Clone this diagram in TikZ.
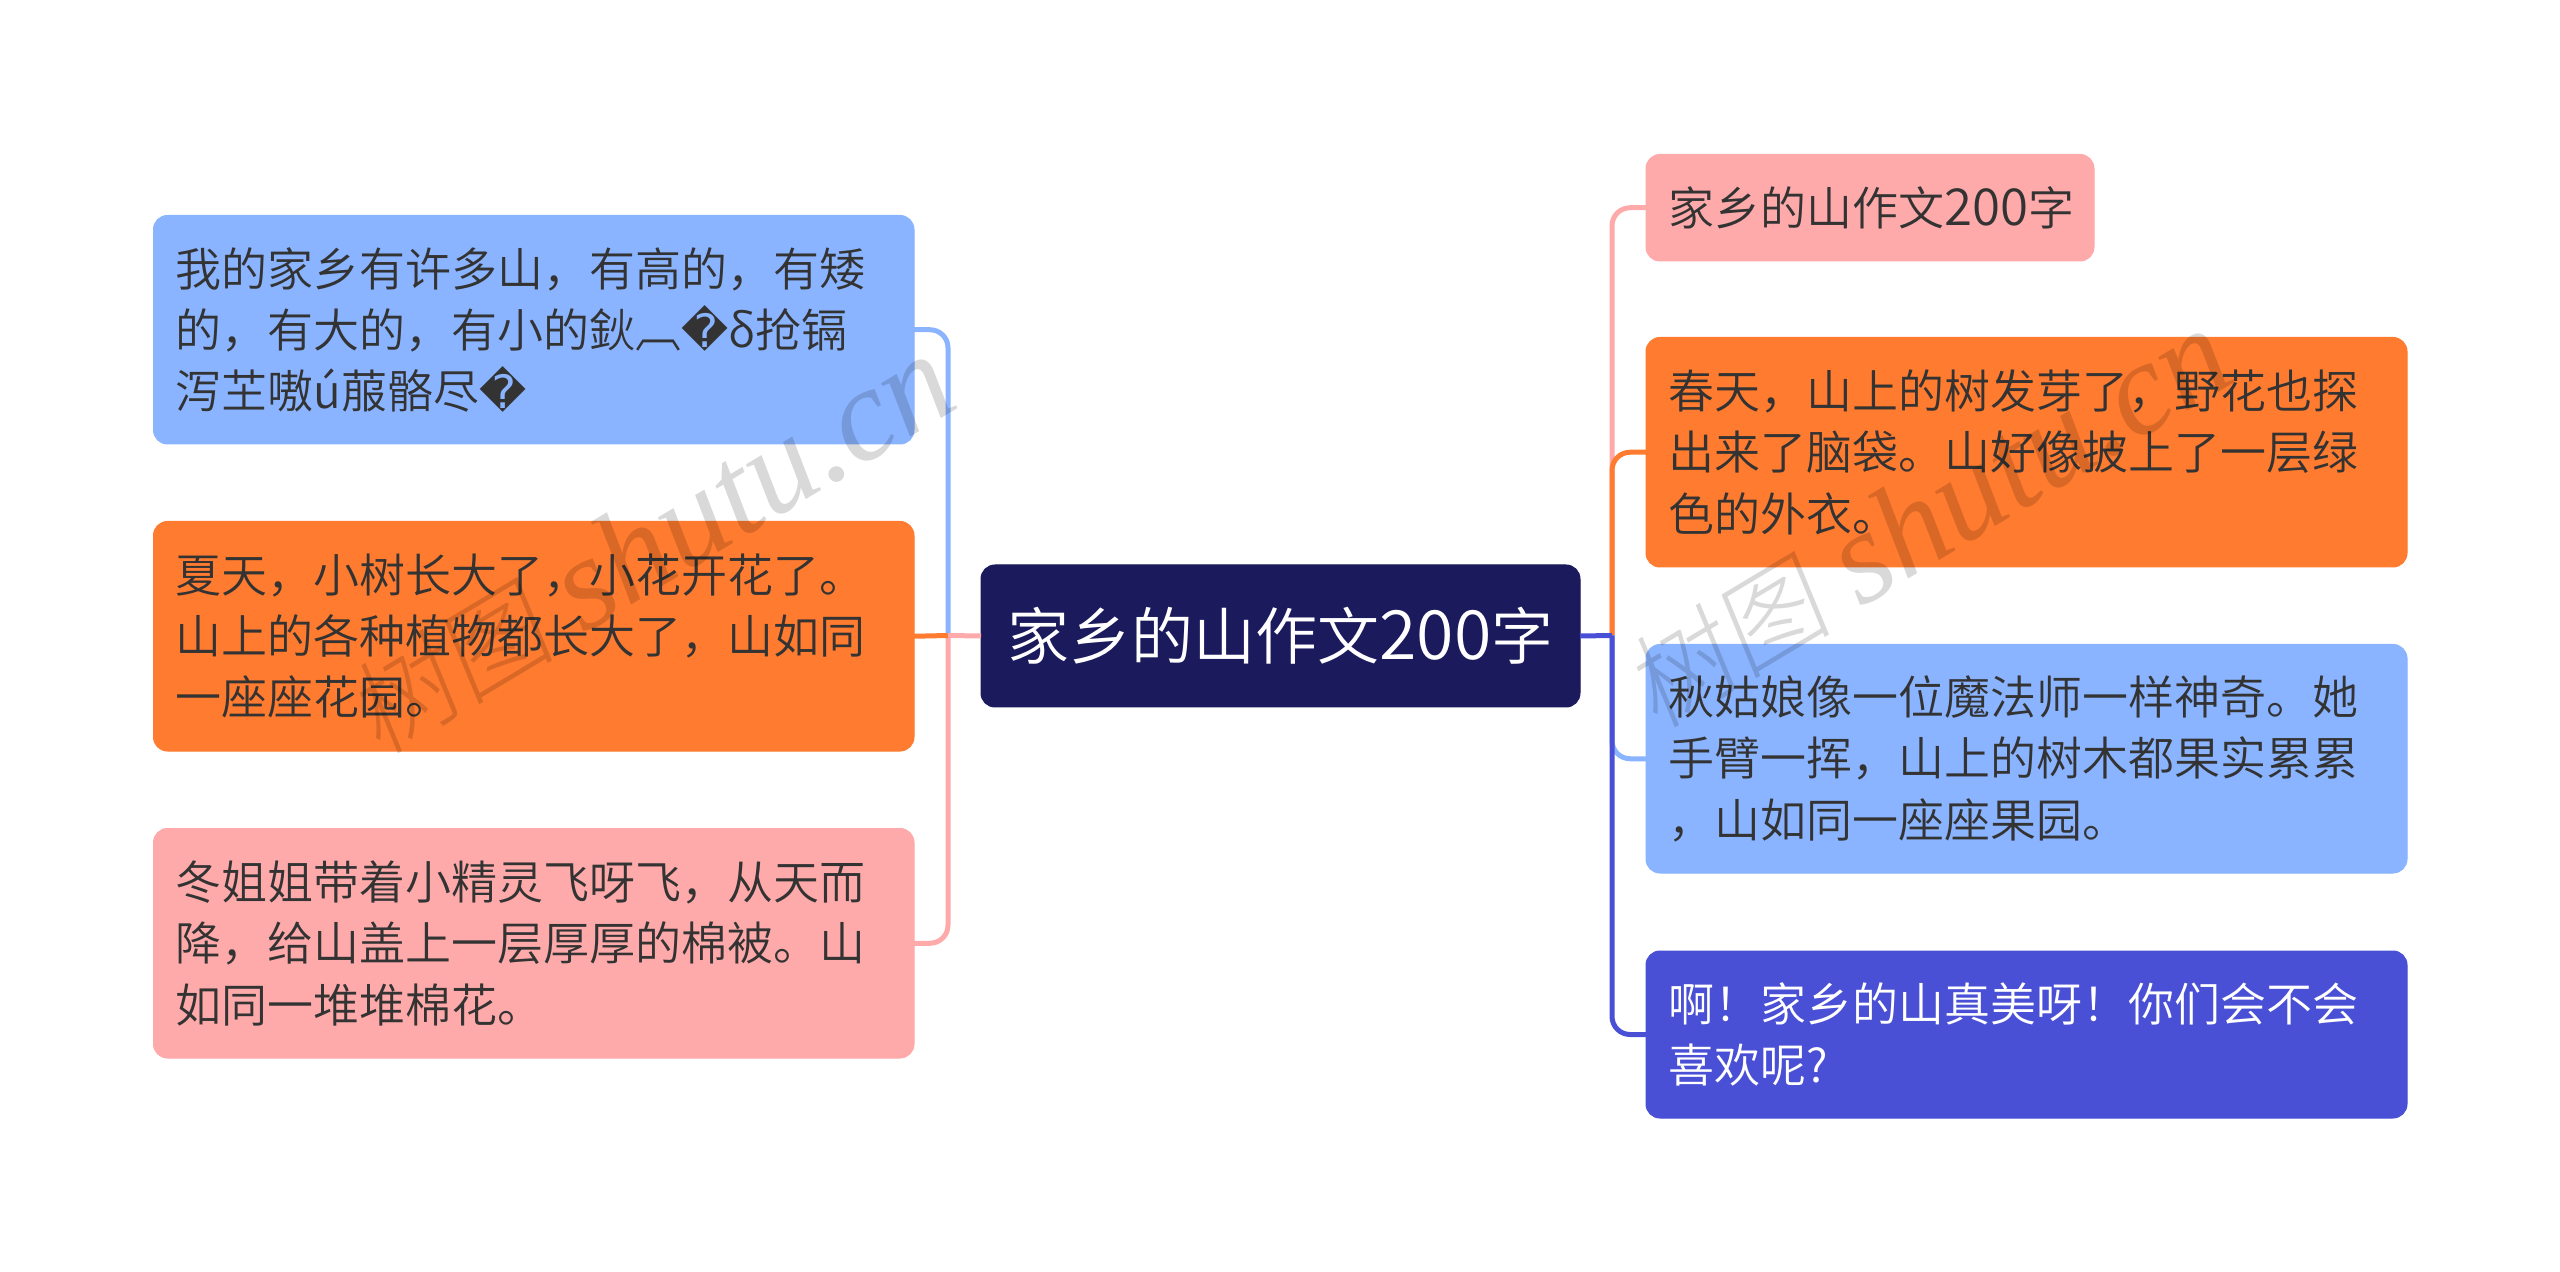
\documentclass[tikz,border=0pt]{standalone}
\usepackage{fontspec}
\setmainfont{Noto Sans CJK SC}[UprightFont=* DemiLight]
\newfontfamily\dejavu{DejaVu Sans}
\newfontfamily\wmserif{Liberation Serif}
\newfontfamily\wmcjk{Noto Sans CJK SC}[UprightFont=* Light,UprightFeatures={FakeSlant=0.15}]
\definecolor{navy}{HTML}{1A1A5C}
\definecolor{skyb}{HTML}{8AB4FF}
\definecolor{orng}{HTML}{FF7B2F}
\definecolor{pnk}{HTML}{FFAAAA}
\definecolor{indg}{HTML}{4A50D6}
\definecolor{ink}{HTML}{333333}
\tikzset{
  every node/.style={inner sep=0pt,outer sep=0pt},
  boxb/.style={rounded corners=7pt,line width=.5pt,align=left,font=\fontsize{23}{30.6}\selectfont,text=ink},
  linkl/.style={line width=2.5pt,rounded corners=9pt},
  wmark/.style={text=black,opacity=.15,rotate=31,font=\fontsize{66}{66}\selectfont},
}
\newcommand{\fffd}{{\dejavu\symbol{"FFFD}}}
\newcommand{\wmtext}{{\fontsize{52}{52}\selectfont\wmcjk 树图} {\wmserif\itshape shutu.cn}}
\newcommand{\boxat}[7]{% name, x1,y1,x2,y2, fill, text
  \node[boxb,fill=#6,draw=#6,minimum width={(#4-#2)*0.5pt},minimum height={(#5-#3)*0.5pt},text width={(#4-#2-44)*0.5pt},anchor=north west] (#1) at (#2,#3) {#7};}
\begin{document}
\begin{tikzpicture}[x=0.5pt,y=-0.5pt]
\useasboundingbox (0,0) rectangle (2560,1272);
\fill[white] (0,0) rectangle (2560,1272);
% coordinates for trunks
\coordinate (lt) at (948,635.5);
\coordinate (rt) at (1612,635.5);
% nodes
\node[boxb,fill=navy,draw=navy,text=white,font=\fontsize{31}{36}\selectfont,minimum width=299.5pt,minimum height=71pt,align=center,anchor=north west] (c) at (981,565) {家乡的山作文{\fontsize{34}{36}\selectfont 200}字};
\boxat{l1}{153.5}{215.5}{914}{444}{skyb}{我的家乡有许多山，有高的，有矮\\的，有大的，有小的鈥︹\fffd δ抢镉\\泻芏嗷ú菔骼尽\fffd}
\boxat{l2}{153.5}{521.5}{914}{751}{orng}{夏天，小树长大了，小花开花了。\\山上的各种植物都长大了，山如同\\一座座花园。}
\boxat{l3}{153.5}{828.5}{914}{1058}{pnk}{冬姐姐带着小精灵飞呀飞，从天而\\降，给山盖上一层厚厚的棉被。山\\如同一堆堆棉花。}
\boxat{r1}{1646}{154.5}{2094}{261}{pnk}{家乡的山作文{\fontsize{25.5}{30}\selectfont 200}字}
\boxat{r2}{1646}{337.5}{2407}{567}{orng}{春天，山上的树发芽了，野花也探\\出来了脑袋。山好像披上了一层绿\\色的外衣。}
\boxat{r3}{1646}{644.5}{2407}{873}{skyb}{秋姑娘像一位魔法师一样神奇。她\\手臂一挥，山上的树木都果实累累\\，山如同一座座果园。}
\boxat{r4}{1646}{951}{2407}{1118}{indg}{\color{white}啊！家乡的山真美呀！你们会不会\\喜欢呢?}
% connectors
\draw[linkl,draw=skyb] (lt) |- (l1.east);
\draw[linkl,draw=pnk] (lt) |- (l3.east);
\draw[line width=2.5pt,draw=orng] (l2.east) -- (lt);
\draw[line width=2.5pt,draw=pnk] (lt) -- (c.west);
\draw[linkl,draw=pnk] (rt) |- (r1.west);
\draw[linkl,draw=orng] (rt) |- (r2.west);
\draw[linkl,draw=skyb] (rt) |- (r3.west);
\draw[linkl,draw=indg] (rt) |- (r4.west);
\draw[line width=2.5pt,draw=indg] (c.east) -- (rt);
% watermarks
\node[wmark] (w1) at (650,545) {\wmtext};
\node[wmark] (w2) at (1927,519) {\wmtext};
\end{tikzpicture}
\end{document}
